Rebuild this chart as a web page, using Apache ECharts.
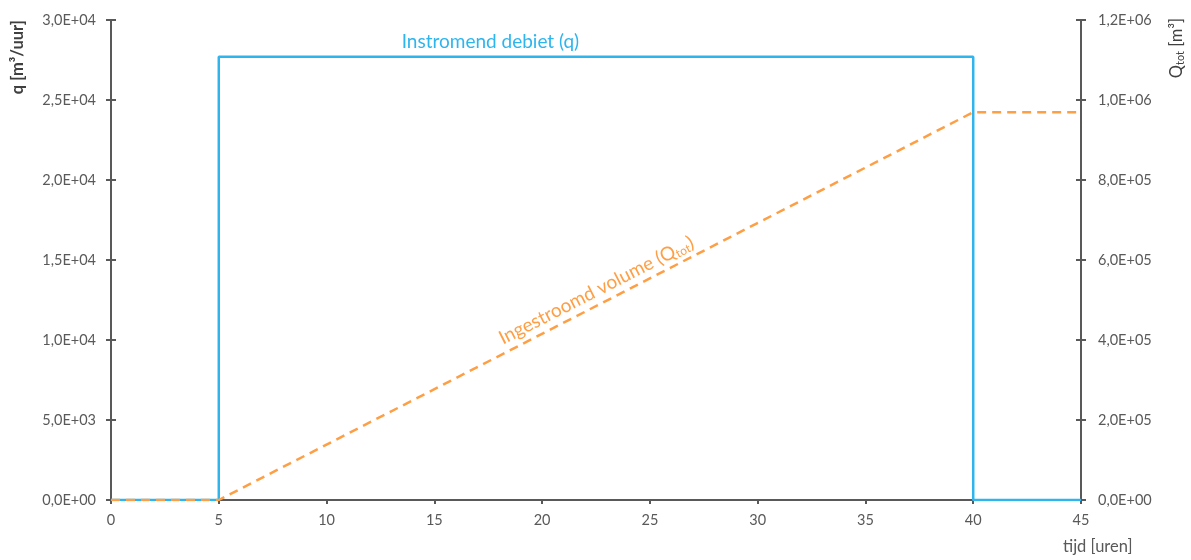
<!DOCTYPE html>
<html><head><meta charset="utf-8">
<script src="https://cdn.jsdelivr.net/npm/echarts@6/dist/echarts.min.js"></script>
<style>html,body{margin:0;padding:0;background:#fff}#c{width:1191px;height:560px}</style>
</head><body><div id="c"></div>
<script>
// Data
const qPoints = [[0, 0], [5, 0], [5, 27700], [40, 27700], [40, 0], [45, 0]];
const qtotPoints = [[0, 0], [5, 0], [40, 969500], [45, 969500]];
const xTicks = [0, 5, 10, 15, 20, 25, 30, 35, 40, 45];
const qLabel = 'Instromend debiet (q)';
const qLabelAt = [17.6, 27700];
const qtotLabelAt = [23.1, 501000];

const FONT = 'Lato, "Open Sans", sans-serif';
const AX = '#595959';
const BLUE = '#2EB5EE';
const ORANGE = '#FF9F45';

function sci(v) {
  if (v === 0) return '0,0E+00';
  const e = Math.floor(Math.log10(Math.abs(v)) + 1e-9);
  const m = v / Math.pow(10, e);
  return m.toFixed(1).replace('.', ',') + 'E+' + String(e).padStart(2, '0');
}

const chart = echarts.init(document.getElementById('c'), null, {renderer: 'canvas'});
const labelStyle = {color: AX, fontFamily: FONT, fontSize: 14.5};
chart.setOption({
  animation: false,
  grid: {left: 111, right: 110, top: 20, bottom: 60},
  xAxis: {
    type: 'value', min: 0, max: 45, interval: 5,
    axisLine: {lineStyle: {color: AX, width: 2}},
    axisTick: {show: true, length: 4, lineStyle: {color: AX, width: 2}},
    axisLabel: Object.assign({margin: 13, formatter: v => xTicks.includes(v) ? String(v) : ''}, labelStyle),
    splitLine: {show: false}
  },
  yAxis: [
    {type: 'value', position: 'left', min: 0, max: 30000, interval: 5000,
     axisLine: {show: true, lineStyle: {color: AX, width: 2}},
     axisTick: {show: true, length: 5, lineStyle: {color: AX, width: 2}},
     axisLabel: Object.assign({margin: 15, formatter: sci}, labelStyle),
     splitLine: {show: false}},
    {type: 'value', position: 'right', min: 0, max: 1200000, interval: 200000,
     axisLine: {show: true, lineStyle: {color: AX, width: 2}},
     axisTick: {show: true, length: 5, lineStyle: {color: AX, width: 2}},
     axisLabel: Object.assign({margin: 17, formatter: sci}, labelStyle),
     splitLine: {show: false}},
    {type: 'value', position: 'left', min: 0, max: 30000, interval: 5000,
     axisLine: {show: false},
     axisTick: {show: true, inside: true, length: 5, lineStyle: {color: AX, width: 2}},
     axisLabel: {show: false}, splitLine: {show: false}},
    {type: 'value', position: 'right', min: 0, max: 1200000, interval: 200000,
     axisLine: {show: false},
     axisTick: {show: true, inside: true, length: 5, lineStyle: {color: AX, width: 2}},
     axisLabel: {show: false}, splitLine: {show: false}}
  ],
  graphic: [
    {type: 'text', left: 9, top: 20, rotation: Math.PI / 2,
     style: {text: 'q [m³/uur]', font: 'bold 16.5px ' + FONT, fill: '#404040'}},
    {type: 'text', left: 1168, top: 18, rotation: Math.PI / 2,
     style: {text: '{a|Q}{s|tot}{a| [m³]}', fill: '#404040',
       rich: {a: {fontFamily: FONT, fontSize: 16.5, fill: '#404040'},
              s: {fontFamily: FONT, fontSize: 11, fill: '#404040', padding: [7, 0, 0, 0]}}}},
    {type: 'text', left: 1063, top: 538,
     style: {text: 'tijd [uren]', font: '16.5px ' + FONT, fill: AX}}
  ],
  series: [
    {type: 'line', name: 'q', yAxisIndex: 0, data: qPoints, symbol: 'none', z: 2,
     lineStyle: {color: BLUE, width: 2.5},
     markPoint: {symbol: 'circle', symbolSize: 0, silent: true,
       data: [{coord: qLabelAt, value: qLabel}],
       label: {show: true, position: 'top', distance: 5, formatter: qLabel,
         color: BLUE, fontFamily: FONT, fontSize: 19}}},
    {type: 'line', name: 'Qtot', yAxisIndex: 1, data: qtotPoints, symbol: 'none', z: 3,
     lineStyle: {color: ORANGE, width: 2.5, type: [9, 6]},
     markPoint: {symbol: 'circle', symbolSize: 0, silent: true,
       data: [{coord: qtotLabelAt, value: 0}],
       label: {show: true, position: 'inside', rotate: 27, offset: [-7, -14],
         formatter: '{a|Ingestroomd volume (Q}{s|tot}{a|)}',
         rich: {a: {color: ORANGE, fontFamily: FONT, fontSize: 19},
                s: {color: ORANGE, fontFamily: FONT, fontSize: 12, padding: [9, 0, 0, 0]}}}}}
  ]
});
</script></body></html>
